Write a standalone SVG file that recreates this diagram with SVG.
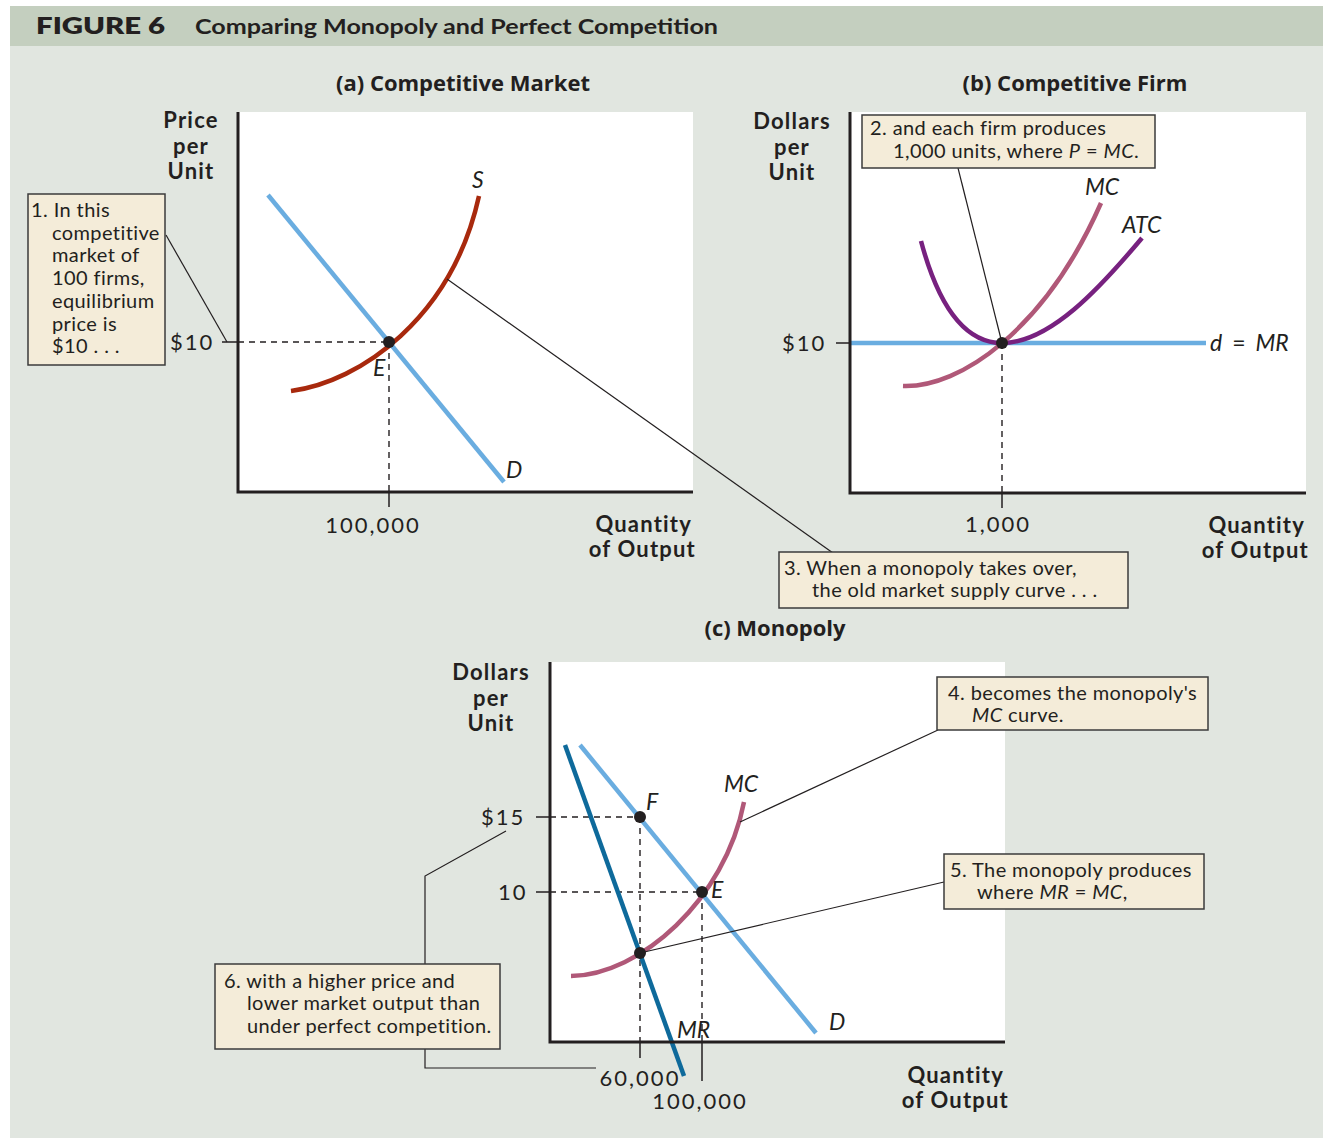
<svg xmlns="http://www.w3.org/2000/svg" width="1324" height="1138" viewBox="0 0 1324 1138">
  <defs>
    <style>
      text { font-family: Lato, "Open Sans", "Liberation Sans", sans-serif; fill: #231f20; }
      .body { font-size: 20px; letter-spacing: 0.4px; }
      .hd { font-family: "Open Sans", Lato, sans-serif; font-size: 22px; font-weight: 700; }
      .ax { font-size: 22px; font-weight: 700; letter-spacing: 1.2px; }
      .num { font-size: 22px; letter-spacing: 2px; }
      .lbl { font-size: 23px; font-style: italic; }
      .it { font-style: italic; }
      .plot { fill: #ffffff; }
      .axis { stroke: #231f20; stroke-width: 3; fill: none; }
      .tick { stroke: #231f20; stroke-width: 1.5; fill: none; }
      .dash { stroke: #231f20; stroke-width: 1.4; stroke-dasharray: 6 5; fill: none; }
      .lead { stroke: #231f20; stroke-width: 1.2; fill: none; }
      .box { fill: #f4ecd9; stroke: #3b3b3b; stroke-width: 1.5; }
      .dot { fill: #231f20; }
      .demand { stroke: #6aade0; stroke-width: 4.5; fill: none; }
      .mr { stroke: #0e6a9b; stroke-width: 4.5; fill: none; }
      .supply { stroke: #a8290d; stroke-width: 4.5; fill: none; }
      .mc { stroke: #b05878; stroke-width: 4.5; fill: none; }
      .atc { stroke: #77217f; stroke-width: 4.5; fill: none; }
    </style>
  </defs>

  <!-- page background and header band -->
  <rect x="10" y="6" width="1313" height="1132" fill="#e1e6e0"/>
  <rect x="10" y="6" width="1313" height="40" fill="#c4cfbf"/>
  <text x="36" y="34" font-family="'Open Sans', Lato, sans-serif" font-size="23" font-weight="800" textLength="129" lengthAdjust="spacingAndGlyphs">FIGURE 6</text>
  <text x="195" y="34" font-family="'Open Sans', Lato, sans-serif" font-size="20" font-weight="700" textLength="523" lengthAdjust="spacingAndGlyphs">Comparing Monopoly and Perfect Competition</text>

  <!-- ===== Panel (a): competitive market ===== -->
  <g id="panel-a">
    <text class="hd" x="463" y="91" text-anchor="middle">(a) Competitive Market</text>
    <rect class="plot" x="238" y="112" width="455" height="380"/>
    <text class="ax" x="191" y="128" text-anchor="middle">Price</text>
    <text class="ax" x="191" y="153.5" text-anchor="middle">per</text>
    <text class="ax" x="191" y="179" text-anchor="middle">Unit</text>
    <text class="ax" x="692" y="532" text-anchor="end">Quantity</text>
    <text class="ax" x="696" y="557" text-anchor="end">of Output</text>
    <text class="num" x="170" y="350">$10</text>
    <text class="num" x="373" y="533" text-anchor="middle">100,000</text>
    <path class="tick" d="M222,342 H238 M389,492 V507"/>
    <path class="dash" d="M238,342 H389 M389,342 V492"/>
  </g>

  <g id="curve-a-demand">
    <path class="demand" d="M268,195 L504,482"/>
    <text class="lbl" x="506" y="478">D</text>
  </g>
  <g id="curve-a-supply">
    <path class="supply" d="M291,391 C360,382 452,318 479,196"/>
    <text class="lbl" x="472" y="188">S</text>
  </g>
  <g id="point-a-e">
    <circle class="dot" cx="389" cy="342" r="6"/>
    <text class="lbl" x="373" y="376">E</text>
  </g>
  <path class="axis" d="M238,112 V492 H693"/>

  <!-- ===== Panel (b): competitive firm ===== -->
  <g id="panel-b">
    <text class="hd" x="1075" y="91" text-anchor="middle">(b) Competitive Firm</text>
    <rect class="plot" x="850" y="112" width="456" height="381"/>
    <text class="ax" x="792" y="129" text-anchor="middle">Dollars</text>
    <text class="ax" x="792" y="154.5" text-anchor="middle">per</text>
    <text class="ax" x="792" y="180" text-anchor="middle">Unit</text>
    <text class="ax" x="1305" y="533" text-anchor="end">Quantity</text>
    <text class="ax" x="1309" y="558" text-anchor="end">of Output</text>
    <text class="num" x="782" y="351">$10</text>
    <text class="num" x="998" y="532" text-anchor="middle">1,000</text>
    <path class="tick" d="M836,343 H850 M1002,493 V508"/>
    <path class="dash" d="M1002,343 V493"/>
  </g>

  <g id="curve-b-dmr">
    <path class="demand" stroke-width="5" d="M850,343 H1206"/>
    <text class="lbl" x="1210" y="351"><tspan>d</tspan><tspan font-style="normal" dx="10">=</tspan><tspan dx="10">MR</tspan></text>
  </g>
  <g id="curve-b-atc">
    <path class="atc" d="M921,241 C940,312 968,343 1002,343 C1050,343 1100,288 1142,238"/>
    <text class="lbl" x="1122" y="233">ATC</text>
  </g>
  <g id="curve-b-mc">
    <path class="mc" d="M903,386 C960,388 1045,330 1101,203"/>
    <text class="lbl" x="1085" y="195">MC</text>
  </g>
  <g id="point-b">
    <circle class="dot" cx="1002" cy="343" r="6"/>
  </g>
  <path class="axis" d="M850,112 V493 H1306"/>

  <!-- ===== Panel (c): monopoly ===== -->
  <g id="panel-c">
    <text class="hd" x="775" y="636" text-anchor="middle">(c) Monopoly</text>
    <rect class="plot" x="550" y="662" width="455" height="380"/>
    <text class="ax" x="491" y="680" text-anchor="middle">Dollars</text>
    <text class="ax" x="491" y="705.5" text-anchor="middle">per</text>
    <text class="ax" x="491" y="731" text-anchor="middle">Unit</text>
    <text class="ax" x="1004" y="1083" text-anchor="end">Quantity</text>
    <text class="ax" x="1009" y="1108" text-anchor="end">of Output</text>
    <text class="num" x="481" y="825">$15</text>
    <text class="num" x="498" y="900">10</text>
    <text class="num" x="640" y="1086" text-anchor="middle">60,000</text>
    <text class="num" x="700" y="1109" text-anchor="middle">100,000</text>
    <path class="tick" d="M536,817 H550 M536,892 H550 M640,1042 V1058 M702,1042 V1081"/>
    <path class="dash" d="M550,817 H640 M550,892 H702 M640,817 V1042 M702,892 V1042"/>
  </g>

  <g id="curve-c-demand">
    <path class="demand" d="M580,745 L816,1033"/>
    <text class="lbl" x="829" y="1030">D</text>
  </g>
  <g id="curve-c-mr">
    <path class="mr" d="M565,745 L684,1076"/>
    <text class="lbl" x="677" y="1038">MR</text>
  </g>
  <g id="curve-c-mc">
    <path class="mc" d="M571,976 C640,975 725,900 744,802"/>
    <text class="lbl" x="724" y="792">MC</text>
  </g>
  <g id="point-c-f">
    <circle class="dot" cx="640" cy="817" r="6"/>
    <text class="lbl" x="646" y="810">F</text>
  </g>
  <g id="point-c-e">
    <circle class="dot" cx="702" cy="892" r="6"/>
    <text class="lbl" x="711" y="898">E</text>
  </g>
  <g id="point-c-mrmc">
    <circle class="dot" cx="640" cy="953" r="6"/>
  </g>
  <path class="axis" d="M550,662 V1042 H1005"/>

  <!-- ===== leader lines ===== -->
  <g id="connectors">
    <path class="lead" d="M166,235 L227,342"/>
    <path class="lead" d="M958,168 L1002,343"/>
    <path class="lead" d="M447,279 L833,553"/>
    <path class="lead" d="M938,730 L740,822"/>
    <path class="lead" d="M944,882 L640,953"/>
    <path class="lead" d="M506,831 L425,876 V964"/>
    <path class="lead" d="M425,1049 V1068 H596"/>
  </g>

  <!-- ===== callouts ===== -->
  <g id="note-1">
    <rect class="box" x="28" y="194" width="137" height="171"/>
    <text class="body" x="31" y="217">1. In this</text>
    <text class="body" x="52" y="240">competitive</text>
    <text class="body" x="52" y="262">market of</text>
    <text class="body" x="52" y="285">100 firms,</text>
    <text class="body" x="52" y="308">equilibrium</text>
    <text class="body" x="52" y="331">price is</text>
    <text class="body" x="52" y="353">$10 . . .</text>
  </g>
  <g id="note-2">
    <rect class="box" x="862" y="115" width="293" height="53"/>
    <text class="body" x="870" y="135">2. and each firm produces</text>
    <text class="body" x="893" y="158">1,000 units, where <tspan class="it">P</tspan> = <tspan class="it">MC</tspan>.</text>
  </g>
  <g id="note-3">
    <rect class="box" x="779" y="552" width="349" height="56"/>
    <text class="body" x="784" y="575">3. When a monopoly takes over,</text>
    <text class="body" x="812" y="597">the old market supply curve . . .</text>
  </g>
  <g id="note-4">
    <rect class="box" x="937" y="677" width="271" height="53"/>
    <text class="body" x="948" y="700">4. becomes the monopoly's</text>
    <text class="body" x="972" y="722"><tspan class="it">MC</tspan> curve.</text>
  </g>
  <g id="note-5">
    <rect class="box" x="944" y="854" width="260" height="55"/>
    <text class="body" x="950" y="877">5. The monopoly produces</text>
    <text class="body" x="977" y="899">where <tspan class="it">MR</tspan> = <tspan class="it">MC</tspan>,</text>
  </g>
  <g id="note-6">
    <rect class="box" x="215" y="964" width="285" height="85"/>
    <text class="body" x="224" y="988">6. with a higher price and</text>
    <text class="body" x="247" y="1010">lower market output than</text>
    <text class="body" x="247" y="1033">under perfect competition.</text>
  </g>
</svg>
